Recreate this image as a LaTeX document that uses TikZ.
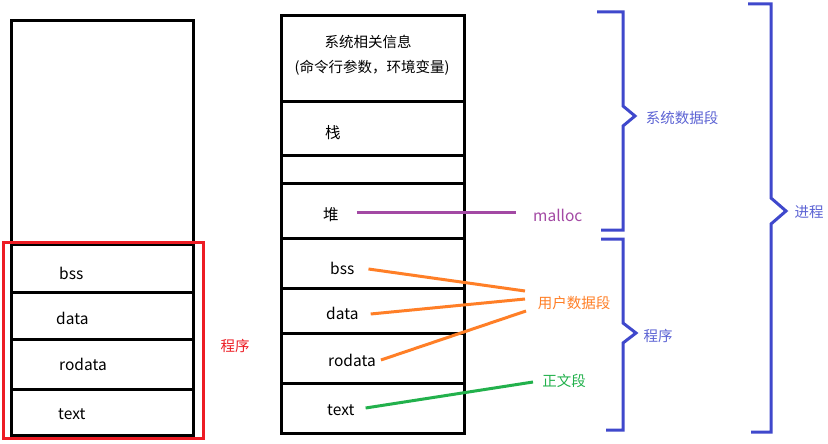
\documentclass[tikz,border=0pt]{standalone}
\usepackage{fontspec}
\setmainfont{Noto Sans CJK SC}
\definecolor{cRed}{HTML}{ED1C24}
\definecolor{cOrange}{HTML}{FF7F27}
\definecolor{cGreen}{HTML}{22B14C}
\definecolor{cPurple}{HTML}{A349A4}
\definecolor{cBlue}{HTML}{3F48CC}
\begin{document}
\begin{tikzpicture}[x=1pt,y=-1pt,
  cell/.style={draw=black,line width=3pt,rectangle,inner sep=0pt,outer sep=0pt},
  lbl/.style={font=\fontsize{15.5}{18}\selectfont,inner sep=0pt,anchor=west},
  clbl/.style={font=\fontsize{14.5}{17}\selectfont,inner sep=0pt},
  conn/.style={line width=3pt},
  bracepath/.style={draw=cBlue,line width=3pt,miter limit=10}]
\useasboundingbox (0,0) rectangle (828,444);
\fill[white] (0,0) rectangle (828,444);
% left column
\node[cell,minimum width=182pt,minimum height=223pt] (l0) at (102.5,132.5) {};
\node[cell,minimum width=182pt,minimum height=48pt] (l1) at (102.5,268) {};
\node[cell,minimum width=182pt,minimum height=47pt] (l2) at (102.5,315.5) {};
\node[cell,minimum width=182pt,minimum height=50pt] (l3) at (102.5,364) {};
\node[cell,minimum width=182pt,minimum height=46pt] (l4) at (102.5,412) {};
\node[lbl] (lbss) at (59,273) {bss};
\node[lbl] (ldata) at (56,318) {data};
\node[lbl] (lrodata) at (59,364) {rodata};
\node[lbl] (ltext) at (58,414) {text};
\node[draw=cRed,line width=3pt,minimum width=200pt,minimum height=196pt,inner sep=0pt] (prog) at (103,340) {};
\node[clbl,text=cRed] (progl) at (235,346) {程序};
% middle column
\node[cell,minimum width=182.5pt,minimum height=86pt] (m0) at (372.75,59) {};
\node[cell,minimum width=182.5pt,minimum height=53pt] (m1) at (372.75,128.5) {};
\node[cell,minimum width=182.5pt,minimum height=28pt] (m2) at (372.75,169) {};
\node[cell,minimum width=182.5pt,minimum height=55pt] (m3) at (372.75,210.5) {};
\node[cell,minimum width=182.5pt,minimum height=50pt] (m4) at (372.75,263) {};
\node[cell,minimum width=182.5pt,minimum height=45pt] (m5) at (372.75,310.5) {};
\node[cell,minimum width=182.5pt,minimum height=50pt] (m6) at (372.75,358) {};
\node[cell,minimum width=182.5pt,minimum height=50pt] (m7) at (372.75,408) {};
\node[clbl] (sys1) at (368,42) {系统相关信息};
\node[clbl] (sys2) at (372,68) {(命令行参数，环境变量)};
\node[lbl] (stack) at (325,133) {栈};
\node[lbl] (heap) at (323,215) {堆};
\node[lbl] (mbss) at (330,268) {bss};
\node[lbl] (mdata) at (326,313) {data};
\node[lbl] (mrodata) at (328,360) {rodata};
\node[lbl] (mtext) at (327,410) {text};
% right labels
\node[lbl,text=cPurple] (malloc) at (533,215) {malloc};
\node[clbl,text=cOrange] (udata) at (574,303) {用户数据段};
\node[clbl,text=cGreen] (ztext) at (564,381) {正文段};
\coordinate (mallocend) at (516,212);
\coordinate (ue1) at (525,291);
\coordinate (ue2) at (525,299);
\coordinate (ue3) at (526,311);
\coordinate (ze) at (533,382);
% connectors
\draw[conn,cPurple] ([xshift=18pt]heap.east |- mallocend) -- (mallocend);
\draw[conn,cOrange] ([xshift=14pt,yshift=-1pt]mbss.east) -- (ue1);
\draw[conn,cOrange] ([xshift=12pt,yshift=-1pt]mdata.east) -- (ue2);
\draw[conn,cOrange] ([xshift=5pt,yshift=0pt]mrodata.east) -- (ue3);
\draw[conn,cGreen] ([xshift=11pt,yshift=2pt]mtext.east) -- (ze);
% braces
\draw[bracepath] (597,12) -- (623,12) -- (623,106) -- (635,116) -- (623,126) -- (623,230) -- (601,230);
\draw[bracepath] (601,239) -- (623,239) -- (623,323) -- (636,333) -- (623,343) -- (623,430) -- (606,430);
\draw[bracepath] (748,4) -- (771,4) -- (771,198) -- (786,211) -- (771,224) -- (771,432) -- (751,432);
\node[clbl,text=cBlue!85!white] (sysdata) at (682,118) {系统数据段};
\node[clbl,text=cBlue!85!white] (progr) at (658,336) {程序};
\node[clbl,text=cBlue!85!white] (proc) at (809,212) {进程};
\end{tikzpicture}
\end{document}
